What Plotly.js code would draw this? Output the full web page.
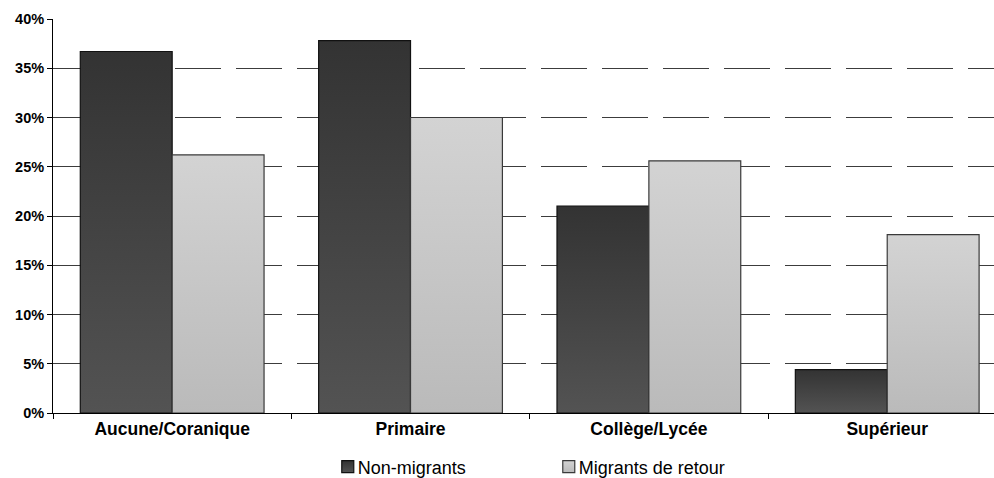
<!DOCTYPE html>
<html>
<head>
<meta charset="utf-8">
<script src="https://cdn.plot.ly/plotly-3.0.1.min.js"></script>
<style>
  html, body { margin: 0; padding: 0; background: #fff; }
  #chart { width: 994px; height: 478px; }
</style>
</head>
<body>
<div id="chart"></div>
<script>
// Niveau d'instruction : non-migrants vs migrants de retour
const categories = ['Aucune/Coranique', 'Primaire', 'Collège/Lycée', 'Supérieur'];
const nonMigrants = [0.367, 0.378, 0.210, 0.044];
const migrantsRetour = [0.262, 0.300, 0.256, 0.181];
const seriesNames = ['Non-migrants', 'Migrants de retour'];
const yTicks = [0, 0.05, 0.10, 0.15, 0.20, 0.25, 0.30, 0.35, 0.40];

const FONT = 'Liberation Sans, Arial, sans-serif';

const traces = [
  {
    type: 'bar', x: categories, y: nonMigrants, name: seriesNames[0],
    marker: { color: '#3f3f3f', line: { color: '#111111', width: 1.2 } },
    hoverinfo: 'skip'
  },
  {
    type: 'bar', x: categories, y: migrantsRetour, name: seriesNames[1],
    marker: { color: '#c7c7c7', line: { color: '#3a3a3a', width: 1.2 } },
    hoverinfo: 'skip'
  }
];

const layout = {
  width: 994, height: 478,
  margin: { l: 53, r: 0, t: 19, b: 65, autoexpand: false },
  paper_bgcolor: '#ffffff', plot_bgcolor: '#ffffff',
  barmode: 'group', bargap: 0.229, bargroupgap: 0,
  showlegend: true,
  legend: {
    orientation: 'h', x: 0.292, xanchor: 'left', y: -0.137, yanchor: 'middle',
    entrywidth: 176, entrywidthmode: 'pixels',
    font: { family: FONT, size: 18, color: '#000' },
    itemwidth: 30, traceorder: 'normal'
  },
  xaxis: {
    type: 'category', range: [-0.5, 3.448], tickson: 'boundaries',
    ticks: 'outside', ticklen: 5,
    tickcolor: '#000', showline: true, linecolor: '#000', linewidth: 1,
    showgrid: false, zeroline: false,
    tickfont: { family: FONT, size: 17.5, color: '#000', weight: 'bold' }
  },
  yaxis: {
    range: [0, 0.40], tickvals: yTicks, tickformat: '.0%',
    ticks: 'outside', ticklen: 5, tickcolor: '#000',
    showline: true, linecolor: '#000', linewidth: 1,
    showgrid: true, gridcolor: '#3c3c3c', gridwidth: 1, griddash: '46px,15px',
    zeroline: false,
    tickfont: { family: FONT, size: 14.5, color: '#000', weight: 'bold' }
  }
};

// Vertical shading on each bar: darker at the top, lighter toward the base
const shades = [
  { id: 'gradNon', top: '#333333', bottom: '#535353' },
  { id: 'gradMig', top: '#d3d3d3', bottom: '#bababa' }
];

function applyShading(gd) {
  const svg = gd.querySelector('.main-svg');
  const defs = svg.querySelector('defs');
  const ns = 'http://www.w3.org/2000/svg';
  shades.forEach(s => {
    if (svg.querySelector('#' + s.id)) return;
    const g = document.createElementNS(ns, 'linearGradient');
    g.setAttribute('id', s.id);
    g.setAttribute('x1', '0'); g.setAttribute('y1', '0');
    g.setAttribute('x2', '0'); g.setAttribute('y2', '1');
    [[0, s.top], [1, s.bottom]].forEach(([o, c]) => {
      const st = document.createElementNS(ns, 'stop');
      st.setAttribute('offset', o);
      st.setAttribute('stop-color', c);
      g.appendChild(st);
    });
    defs.appendChild(g);
  });
  gd.querySelectorAll('.barlayer .trace').forEach((tr, i) => {
    tr.querySelectorAll('.point path').forEach(p => {
      p.style.fill = 'url(#' + shades[i].id + ')';
    });
  });
  // Legend: shaded swatches, label set close to its swatch
  gd.querySelectorAll('.legend .traces').forEach((tr, i) => {
    tr.querySelectorAll('.legendpoints path').forEach(p => {
      p.style.fill = 'url(#' + shades[i].id + ')';
    });
    const txt = tr.querySelector('.legendtext');
    if (txt) txt.setAttribute('x', 30);
  });
}

Plotly.newPlot('chart', traces, layout, { staticPlot: true, displayModeBar: false })
  .then(applyShading);
</script>
</body>
</html>
